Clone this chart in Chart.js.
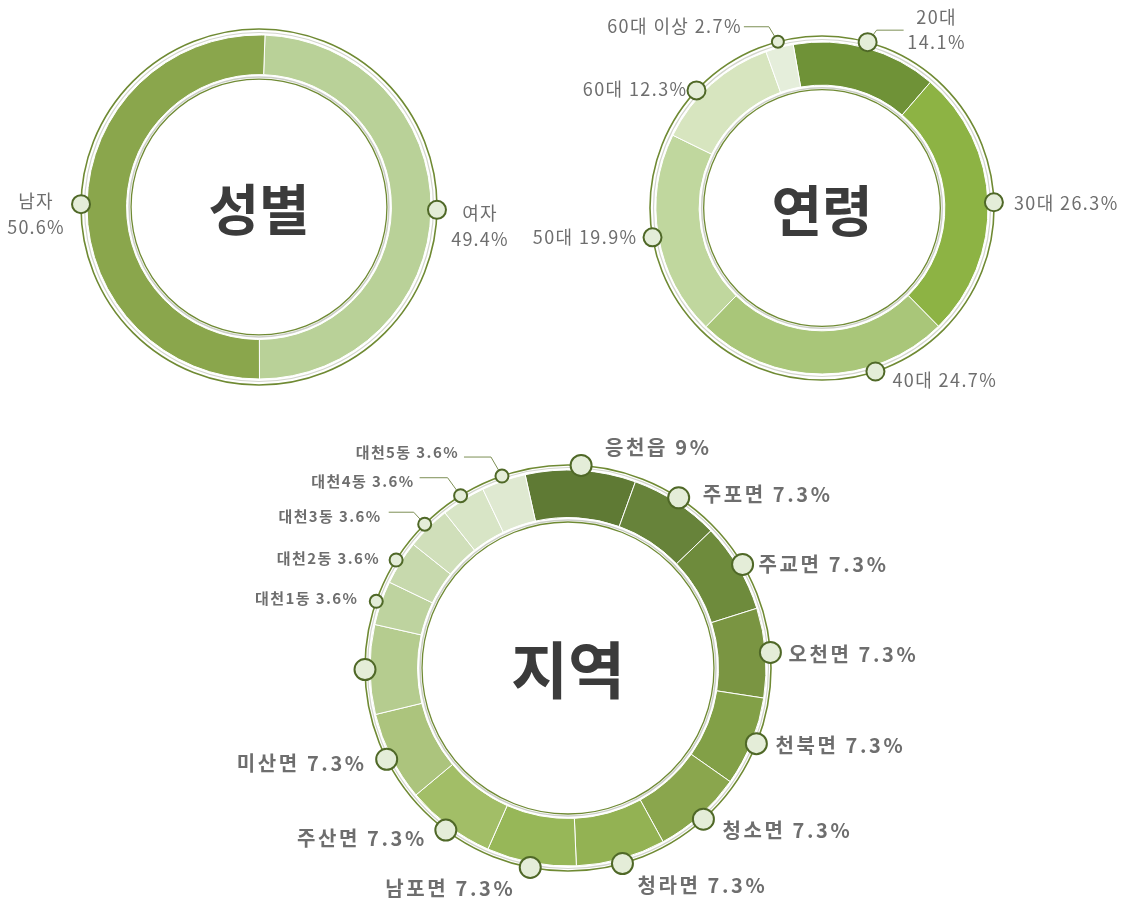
<!DOCTYPE html>
<html lang="ko">
<head>
<meta charset="utf-8">
<title>성별 · 연령 · 지역</title>
<script src="https://cdn.jsdelivr.net/npm/chart.js@4.4.1/dist/chart.umd.min.js"></script>
<style>
  html, body { margin: 0; padding: 0; background: #fff; }
  body { width: 1132px; height: 901px; position: relative; overflow: hidden; }
  canvas { position: absolute; }
  #genderChart { left: 0; top: 0; }
  #ageChart { left: 522px; top: 0; }
  #regionChart { left: 208px; top: 435px; }
</style>
</head>
<body>
<canvas id="genderChart" width="518" height="414"></canvas>
<canvas id="ageChart" width="600" height="416"></canvas>
<canvas id="regionChart" width="720" height="466"></canvas>
<script>
// 성별 (percent)
const genderLabels = ["여자", "남자"];
const genderValues = [49.4, 50.6];

// 연령 (percent)
const ageLabels = ["20대", "30대", "40대", "50대", "60대", "60대 이상"];
const ageValues = [14.1, 26.3, 24.7, 19.9, 12.3, 2.7];

// 지역 (percent) - one slice has no label in the picture
const regionLabels = ["응천읍", "주포면", "주교면", "오천면", "천북면", "청소면", "청라면", "남포면",
  "주산면", "미산면", "", "대천1동", "대천2동", "대천3동", "대천4동", "대천5동"];
const regionValues = [9, 7.3, 7.3, 7.3, 7.3, 7.3, 7.3, 7.3, 7.3, 7.3, 7.3, 3.6, 3.6, 3.6, 3.6, 3.6];

const OLIVE = "#6f8a33";
const FONT = '"Noto Sans CJK KR", "Noto Sans", sans-serif';

// label / marker settings per canvas (kept out of Chart.js options on purpose)
const decoById = {};

// rings, centre title, markers and labels
const ringDeco = {
  id: "ringDeco",
  afterDatasetsDraw(chart) {
    const opts = decoById[chart.canvas.id];
    const ctx = chart.ctx;
    const meta = chart.getDatasetMeta(0);
    const first = meta.data[0];
    const cx = first.x, cy = first.y;
    const outer = first.outerRadius, inner = first.innerRadius;
    const ringR = outer + opts.ringGap;

    ctx.save();
    // outer thin lines
    ctx.lineWidth = 1.2;
    ctx.strokeStyle = "#d3d6cc";
    ctx.beginPath(); ctx.arc(cx, cy, outer + 2.5, 0, Math.PI * 2); ctx.stroke();
    ctx.lineWidth = 1.6;
    ctx.strokeStyle = OLIVE;
    ctx.beginPath(); ctx.arc(cx, cy, ringR, 0, Math.PI * 2); ctx.stroke();
    // inner thin lines
    ctx.lineWidth = 1.5;
    ctx.strokeStyle = "#cdd0c8";
    ctx.beginPath(); ctx.arc(cx, cy, inner - 2.5, 0, Math.PI * 2); ctx.stroke();
    ctx.lineWidth = 1.3;
    ctx.strokeStyle = OLIVE;
    ctx.beginPath(); ctx.arc(cx, cy, inner - 4.5, 0, Math.PI * 2); ctx.stroke();

    // title in the middle
    ctx.fillStyle = "#3b3b3b";
    ctx.font = `bold ${opts.titleSize}px ${FONT}`;
    ctx.textAlign = "center";
    ctx.textBaseline = "middle";
    ctx.fillText(opts.title, cx, cy + 2);

    const labels = chart.data.labels;
    const values = chart.data.datasets[0].data;

    opts.layout.forEach((lay, i) => {
      const el = meta.data[i];
      const mid = (el.startAngle + el.endAngle) / 2 + (lay.shift || 0) * Math.PI / 180;
      const mx = cx + Math.cos(mid) * ringR;
      const my = cy + Math.sin(mid) * ringR;

      if (lay.leader) {
        ctx.strokeStyle = "#7d8f55";
        ctx.lineWidth = 1;
        ctx.beginPath();
        ctx.moveTo(mx, my);
        lay.leader.forEach(p => ctx.lineTo(mx + p[0], my + p[1]));
        ctx.stroke();
      }

      if (lay.align) {
        const small = lay.smallText;
        const size = small ? opts.smallFont : opts.fontSize;
        ctx.font = `${opts.weight} ${size}px ${FONT}`;
        ctx.letterSpacing = (small ? opts.smallSpacing : opts.spacing) + "px";
        ctx.fillStyle = "#6e6e6e";
        ctx.textAlign = lay.align;
        ctx.textBaseline = "middle";
        const lines = lay.twoLine
          ? [labels[i], values[i] + "%"]
          : [labels[i] + " " + values[i] + "%"];
        lines.forEach((t, k) => ctx.fillText(t, mx + lay.dx, my + lay.dy + k * opts.lineHeight));
        ctx.letterSpacing = "0px";
      }

      const r = lay.small ? opts.smallMarker : opts.marker;
      ctx.beginPath();
      ctx.arc(mx, my, r, 0, Math.PI * 2);
      ctx.fillStyle = "#e4edd8";
      ctx.fill();
      ctx.lineWidth = 2;
      ctx.strokeStyle = "#4f6827";
      ctx.stroke();
    });
    ctx.restore();
  }
};

function makeDoughnut(id, labels, values, colors, opt, deco) {
  decoById[id] = deco;
  return new Chart(document.getElementById(id), {
    type: "doughnut",
    data: {
      labels: labels,
      datasets: [{
        data: values,
        backgroundColor: colors,
        borderColor: "#ffffff",
        borderWidth: 1
      }]
    },
    options: {
      responsive: false,
      animation: false,
      events: [],
      radius: opt.radius,
      cutout: opt.cutout,
      rotation: opt.rotation,
      layout: { padding: 0 },
      plugins: {
        legend: { display: false },
        tooltip: { enabled: false }
      }
    },
    plugins: [ringDeco]
  });
}

// 성별
makeDoughnut("genderChart", genderLabels, genderValues,
  ["#b9d198", "#8aa64c"],
  { radius: 172, cutout: "77%", rotation: 2 },
  {
    title: "성별", titleSize: 55, ringGap: 6,
    fontSize: 18, smallFont: 15, spacing: 1.2, smallSpacing: 1, weight: "normal", lineHeight: 26,
    marker: 9, smallMarker: 6,
    layout: [
      { align: "center", dx: 43, dy: 3, twoLine: true },
      { align: "center", dx: -45, dy: -3, twoLine: true }
    ]
  });

// 연령
makeDoughnut("ageChart", ageLabels, ageValues,
  ["#6f9237", "#8db344", "#a9c679", "#c0d79e", "#d7e5bf", "#e5eedb"],
  { radius: 166, cutout: "74%", rotation: -10 },
  {
    title: "연령", titleSize: 55, ringGap: 6,
    fontSize: 18, smallFont: 15, spacing: 1.4, smallSpacing: 1, weight: "normal", lineHeight: 25,
    marker: 9, smallMarker: 6,
    layout: [
      { align: "center", dx: 69, dy: -25, twoLine: true, leader: [[9, -12], [36, -12]] },
      { align: "left", dx: 20, dy: 1 },
      { align: "left", dx: 17, dy: 9, shift: -18 },
      { align: "right", dx: -15, dy: 0 },
      { align: "right", dx: -9, dy: -1, shift: -5 },
      { align: "right", dx: -36, dy: -16, small: true, leader: [[-9, -15], [-34, -15]] }
    ]
  });

// 지역
makeDoughnut("regionChart", regionLabels, regionValues,
  ["#5f7a34", "#67833a", "#6e8b3c", "#7a9542", "#82a047", "#8aa64d", "#93b253", "#97b758",
   "#a2be67", "#acc47d", "#b5cc8f", "#bed39f", "#c7d9ad", "#d0dfba", "#d8e5c6", "#dfe9d1"],
  { radius: 198, cutout: "76%", rotation: -12.5 },
  {
    title: "지역", titleSize: 62, ringGap: 5,
    fontSize: 20, smallFont: 15, spacing: 2.6, smallSpacing: 1.4, weight: "bold", lineHeight: 24,
    marker: 10.5, smallMarker: 6.5,
    layout: [
      { align: "left", dx: 24, dy: -18 },
      { align: "left", dx: 24, dy: -3 },
      { align: "left", dx: 16, dy: 0 },
      { align: "left", dx: 18, dy: 2 },
      { align: "left", dx: 19, dy: 2 },
      { align: "left", dx: 19, dy: 11 },
      { align: "left", dx: 15, dy: 22 },
      { align: "right", dx: -15, dy: 21 },
      { align: "right", dx: -19, dy: 8 },
      { align: "right", dx: -20, dy: 4 },
      {},
      { align: "right", dx: -18, dy: -3, small: true, smallText: true },
      { align: "right", dx: -16, dy: -2, small: true, smallText: true },
      { align: "right", dx: -43, dy: -8, small: true, smallText: true, leader: [[-11, -12], [-36, -12]] },
      { align: "right", dx: -46, dy: -14, small: true, smallText: true, leader: [[-13, -18], [-41, -18]] },
      { align: "right", dx: -43, dy: -24, small: true, smallText: true, leader: [[-11, -19], [-38, -19]] }
    ]
  });
</script>
</body>
</html>
